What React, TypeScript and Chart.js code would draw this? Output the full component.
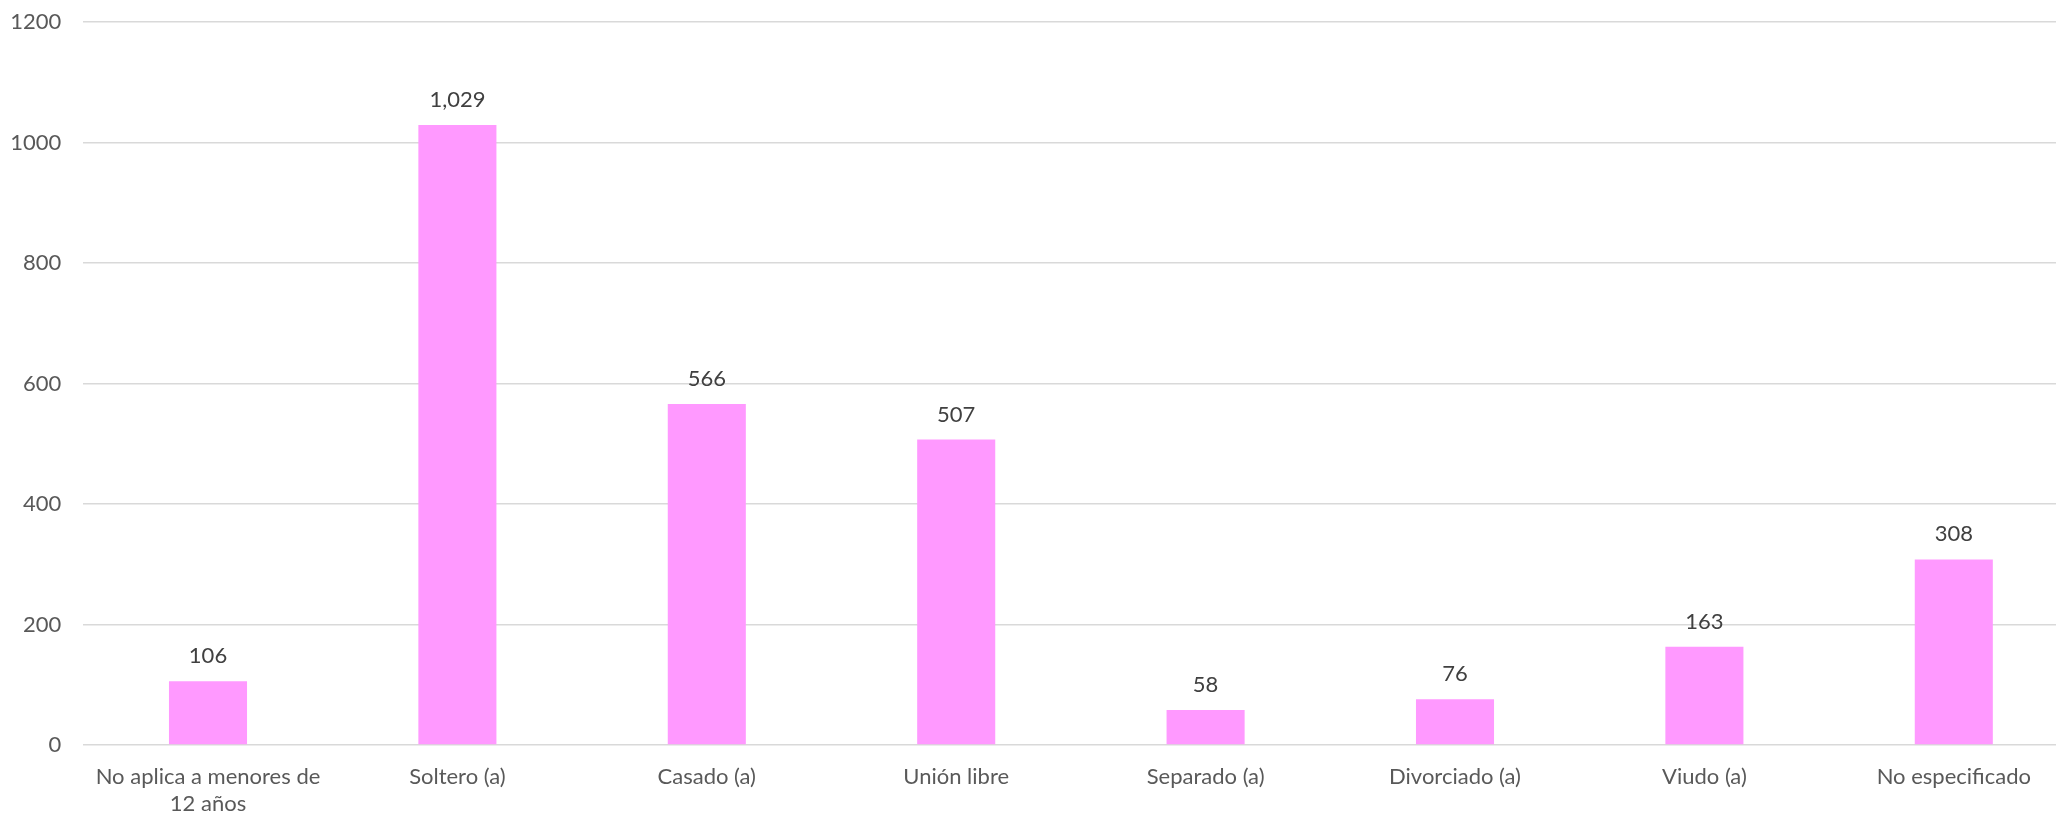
import React, { useEffect, useRef } from "react";
import { Chart, registerables } from "chart.js";

Chart.register(...registerables);

const categories: (string | string[])[] = [
  ["No aplica a menores de", "12 años"],
  "Soltero (a)",
  "Casado (a)",
  "Unión libre",
  "Separado (a)",
  "Divorciado (a)",
  "Viudo (a)",
  "No especificado",
];
const values: number[] = [106, 1029, 566, 507, 58, 76, 163, 308];
const yTicks: number[] = [0, 200, 400, 600, 800, 1000, 1200];

const FONT = "Lato";
const FS = 22;

const dataLabelPlugin = {
  id: "dataLabels",
  afterDatasetsDraw(chart: any) {
    const ctx = chart.ctx;
    const meta = chart.getDatasetMeta(0);
    ctx.save();
    ctx.font = `${FS}px ${FONT}`;
    ctx.fillStyle = "#404040";
    ctx.textAlign = "center";
    ctx.textBaseline = "alphabetic";
    meta.data.forEach((bar: any, i: number) => {
      const v = chart.data.datasets[0].data[i] as number;
      ctx.fillText(v.toLocaleString("en-US"), bar.x, bar.y - 18);
    });
    ctx.restore();
  },
};

export default function App() {
  const ref = useRef<HTMLCanvasElement | null>(null);
  useEffect(() => {
    if (!ref.current) return;
    const chart = new Chart(ref.current, {
      type: "bar",
      data: {
        labels: categories,
        datasets: [
          {
            data: values,
            backgroundColor: "#FF99FF",
            borderWidth: 0,
            categoryPercentage: 1,
            barPercentage: 0.313,
          },
        ],
      },
      options: {
        animation: false,
        responsive: false,
        devicePixelRatio: 1,
        layout: { padding: { top: 22, right: 1.5, left: 0, bottom: 0 } },
        plugins: { legend: { display: false }, tooltip: { enabled: false } },
        scales: {
          x: {
            offset: true,
            grid: { display: false, drawTicks: false },
            border: { display: false },
            ticks: {
              color: "#595959",
              font: { family: FONT, size: FS, lineHeight: 1.23 },
              padding: 18.5,
              maxRotation: 0,
              autoSkip: false,
            },
            afterFit: (s: any) => {
              s.height = 73;
              s.paddingTop = 0;
              s.paddingBottom = 0;
            },
          },
          y: {
            min: 0,
            max: 1200,
            afterBuildTicks: (s: any) => {
              s.ticks = yTicks.map((v) => ({ value: v }));
            },
            grid: { color: "#D9D9D9", lineWidth: 1.5, drawTicks: false },
            border: { display: false },
            ticks: {
              color: "#595959",
              font: { family: FONT, size: FS },
              padding: 22,
              callback: (v: any) => String(v),
            },
            afterFit: (s: any) => {
              s.width = 83.3;
              s.paddingTop = 0;
              s.paddingBottom = 0;
            },
          },
        },
      },
      plugins: [dataLabelPlugin],
    });
    return () => chart.destroy();
  }, []);
  return (
    <div
      style={{
        position: "fixed",
        left: 0,
        top: 0,
        width: 2056,
        height: 818,
        overflow: "hidden",
        background: "#fff",
      }}
    >
      <canvas ref={ref} width={2080} height={818} style={{ width: 2080, height: 818, display: "block" }} />
    </div>
  );
}
